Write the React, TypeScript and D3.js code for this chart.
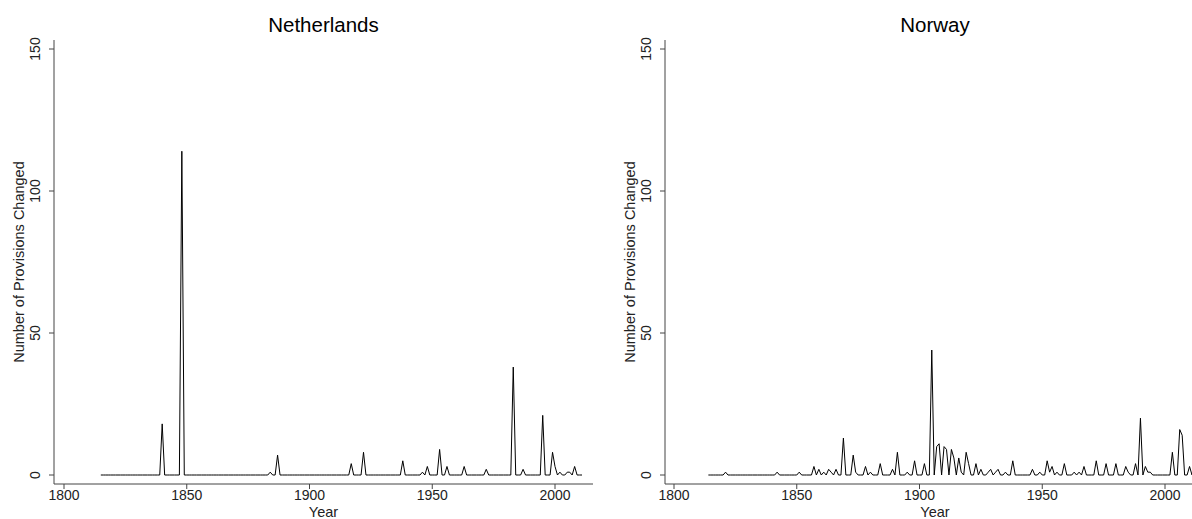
import React from "react";
import * as d3 from "d3";

// ---- Data ----
const netherlandsStart = 1815;
const netherlandsChanges: number[] = [
  0, 0, 0, 0, 0, // 1815-1819
  0, 0, 0, 0, 0, 0, 0, 0, 0, 0, // 1820s
  0, 0, 0, 0, 0, 0, 0, 0, 0, 0, // 1830s
  18, 0, 0, 0, 0, 0, 0, 0, 114, 0, // 1840s
  0, 0, 0, 0, 0, 0, 0, 0, 0, 0, // 1850s
  0, 0, 0, 0, 0, 0, 0, 0, 0, 0, // 1860s
  0, 0, 0, 0, 0, 0, 0, 0, 0, 0, // 1870s
  0, 0, 0, 0, 1, 0, 0, 7, 0, 0, // 1880s
  0, 0, 0, 0, 0, 0, 0, 0, 0, 0, // 1890s
  0, 0, 0, 0, 0, 0, 0, 0, 0, 0, // 1900s
  0, 0, 0, 0, 0, 0, 0, 4, 0, 0, // 1910s
  0, 0, 8, 0, 0, 0, 0, 0, 0, 0, // 1920s
  0, 0, 0, 0, 0, 0, 0, 0, 5, 0, // 1930s
  0, 0, 0, 0, 0, 0, 1, 0, 3, 0, // 1940s
  0, 0, 0, 9, 0, 0, 3, 0, 0, 0, // 1950s
  0, 0, 0, 3, 0, 0, 0, 0, 0, 0, // 1960s
  0, 0, 2, 0, 0, 0, 0, 0, 0, 0, // 1970s
  0, 0, 0, 38, 0, 0, 0, 2, 0, 0, // 1980s
  0, 0, 0, 0, 0, 21, 0, 0, 0, 8, // 1990s
  3, 0, 1, 0, 0, 1, 1, 0, 3, 0, // 2000s
  0, 0, // 2010-2011
];

const norwayStart = 1814;
const norwayChanges: number[] = [
  0, 0, 0, 0, 0, 0, // 1814-1819
  0, 1, 0, 0, 0, 0, 0, 0, 0, 0, // 1820s
  0, 0, 0, 0, 0, 0, 0, 0, 0, 0, // 1830s
  0, 0, 1, 0, 0, 0, 0, 0, 0, 0, // 1840s
  0, 1, 0, 0, 0, 0, 0, 3, 0, 2, // 1850s
  0, 1, 0, 2, 1, 0, 2, 0, 0, 13, // 1860s
  0, 0, 0, 7, 1, 0, 0, 0, 3, 0, // 1870s
  1, 0, 0, 0, 4, 0, 0, 0, 0, 2, // 1880s
  0, 8, 0, 0, 0, 1, 0, 0, 5, 0, // 1890s
  0, 0, 4, 0, 0, 44, 0, 10, 11, 0, // 1900s
  10, 9, 0, 9, 6, 0, 6, 1, 0, 8, // 1910s
  4, 0, 0, 4, 0, 2, 0, 0, 1, 2, // 1920s
  0, 1, 2, 0, 0, 1, 0, 0, 5, 0, // 1930s
  0, 0, 0, 0, 0, 0, 2, 0, 0, 1, // 1940s
  0, 0, 5, 1, 3, 0, 1, 0, 0, 4, // 1950s
  0, 0, 0, 1, 0, 1, 0, 3, 0, 0, // 1960s
  0, 0, 5, 0, 0, 0, 4, 0, 0, 0, // 1970s
  4, 0, 0, 0, 3, 1, 0, 0, 4, 0, // 1980s
  20, 0, 3, 1, 1, 0, 0, 0, 0, 0, // 1990s
  0, 0, 0, 8, 0, 0, 16, 14, 0, 0, // 2000s
  3, 0, 2, // 2010-2012
];

const xTicks = [1800, 1850, 1900, 1950, 2000];
const yTicks = [0, 50, 100, 150];
const yTitle = "Number of Provisions Changed";
const xTitle = "Year";

const FONT = "'Liberation Sans', Arial, sans-serif";

type PanelProps = {
  title: string;
  start: number;
  values: number[];
  axisX: number;
  x1800: number;
  rightEnd: number;
};

function Panel({ title, start, values, axisX, x1800, rightEnd }: PanelProps) {
  const pxPerYear = 2.455;
  const x = d3
    .scaleLinear()
    .domain([1800, 2000])
    .range([x1800, x1800 + 200 * pxPerYear]);
  const y = d3.scaleLinear().domain([0, 150]).range([475, 49]);
  const pts: [number, number][] = values.map((v, i) => [start + i, v]);
  const line = d3
    .line<[number, number]>()
    .x((d) => x(d[0]))
    .y((d) => y(d[1]));
  const axisColor = "#444";
  const bottom = 484;
  const top = 40;
  const titleX = (axisX + rightEnd) / 2;
  return (
    <g>
      <text
        x={titleX}
        y={32}
        textAnchor="middle"
        fontFamily={FONT}
        fontSize={20.5}
        fill="#000"
      >
        {title}
      </text>
      {/* y axis */}
      <line x1={axisX} x2={axisX} y1={top} y2={bottom} stroke={axisColor} strokeWidth={1} />
      {yTicks.map((t) => (
        <g key={t}>
          <line x1={axisX - 5} x2={axisX} y1={y(t)} y2={y(t)} stroke={axisColor} strokeWidth={1} />
          <text
            transform={`translate(${axisX - 14},${y(t)}) rotate(-90)`}
            textAnchor="middle"
            fontFamily={FONT}
            fontSize={14}
            fill="#222"
          >
            {t}
          </text>
        </g>
      ))}
      <text
        transform={`translate(${axisX - 30},${(top + bottom) / 2}) rotate(-90)`}
        textAnchor="middle"
        fontFamily={FONT}
        fontSize={14.5}
        fill="#222"
      >
        {yTitle}
      </text>
      {/* x axis */}
      <line x1={axisX} x2={rightEnd} y1={bottom} y2={bottom} stroke={axisColor} strokeWidth={1} />
      {xTicks.map((t) => (
        <g key={t}>
          <line x1={x(t)} x2={x(t)} y1={bottom} y2={bottom + 5} stroke={axisColor} strokeWidth={1} />
          <text
            x={x(t)}
            y={500}
            textAnchor="middle"
            fontFamily={FONT}
            fontSize={14}
            fill="#222"
          >
            {t}
          </text>
        </g>
      ))}
      <text
        x={titleX}
        y={517}
        textAnchor="middle"
        fontFamily={FONT}
        fontSize={14.5}
        fill="#222"
      >
        {xTitle}
      </text>
      <path d={line(pts) ?? ""} fill="none" stroke="#000" strokeWidth={1} />
    </g>
  );
}

export default function App() {
  return (
    <>
      <style>{`body{margin:0;}`}</style>
      <svg width={1192} height={519} style={{ display: "block", background: "#fff" }}>
        <rect x={0} y={0} width={1192} height={519} fill="#fff" />
        <Panel
          title="Netherlands"
          start={netherlandsStart}
          values={netherlandsChanges}
          axisX={54}
          x1800={64}
          rightEnd={593}
        />
        <Panel
          title="Norway"
          start={norwayStart}
          values={norwayChanges}
          axisX={665}
          x1800={674}
          rightEnd={1205}
        />
      </svg>
    </>
  );
}
